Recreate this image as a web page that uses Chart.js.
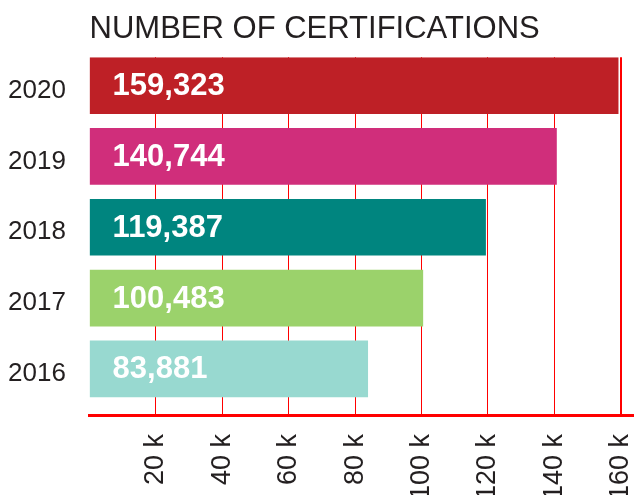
<!DOCTYPE html>
<html>
<head>
<meta charset="utf-8">
<title>Number of certifications</title>
<script src="https://cdn.jsdelivr.net/npm/chart.js@4.4.0/dist/chart.umd.min.js"></script>
<style>
  html, body { margin: 0; padding: 0; background: #fff; }
  #wrap { width: 634px; height: 495px; }
</style>
</head>
<body>
<div id="wrap"><canvas id="grafica" width="634" height="495"></canvas></div>
<script>
// values
const anios = ['2020', '2019', '2018', '2017', '2016'];
const certificaciones = [159323, 140744, 119387, 100483, 83881];
const colores = ['#be2026', '#d02e7b', '#00857f', '#9bd26b', '#98d9d0'];
const ticksX = [20000, 40000, 60000, 80000, 100000, 120000, 140000, 160000];
const maxX = 164000;

const fuente = '"Liberation Sans", Arial, Helvetica, sans-serif';

// white value label inside each bar
const etiquetas = {
    id: 'etiquetas',
    afterDatasetsDraw(chart) {
        const ctx = chart.ctx;
        const meta = chart.getDatasetMeta(0);
        ctx.save();
        ctx.fillStyle = '#ffffff';
        ctx.font = 'bold 31px ' + fuente;
        ctx.textAlign = 'left';
        ctx.textBaseline = 'middle';
        meta.data.forEach(function (bar, i) {
            ctx.fillText(certificaciones[i].toLocaleString('en-US'), bar.base + 23, bar.y + 1);
        });
        ctx.restore();
    }
};

const datos = certificaciones.map(function (v, i) { return { x: v, y: i }; });

new Chart(document.getElementById('grafica').getContext('2d'), {
    type: 'bar',
    data: {
        datasets: [{
            data: datos,
            backgroundColor: colores,
            borderWidth: 0,
            categoryPercentage: 1,
            barPercentage: 0.8
        }]
    },
    options: {
        indexAxis: 'y',
        responsive: false,
        animation: false,
        layout: { padding: { left: 8, right: 0, top: 0, bottom: 0 } },
        plugins: {
            legend: { display: false },
            tooltip: { enabled: false },
            title: {
                display: true,
                text: 'NUMBER OF CERTIFICATIONS',
                align: 'start',
                fullSize: false,
                color: '#231f20',
                font: { family: fuente, size: 31, weight: 'normal' },
                padding: { top: 11, bottom: 9 }
            }
        },
        scales: {
            x: {
                type: 'linear',
                position: 'bottom',
                min: 0,
                max: maxX,
                afterFit: function (axis) {
                    axis.height = 80;
                    // labels may hang over the edges, like in the original
                    axis.paddingLeft = 0;
                    axis.paddingRight = 0;
                },
                afterBuildTicks: function (axis) {
                    axis.ticks = ticksX.map(function (v) { return { value: v }; });
                },
                grid: {
                    drawTicks: false,
                    color: 'rgb(255, 0, 0)',
                    lineWidth: function (c) { return c.tick && c.tick.value === 160000 ? 2 : 1; }
                },
                border: { display: true, color: 'rgb(255, 0, 0)', width: 3 },
                ticks: {
                    minRotation: 90,
                    maxRotation: 90,
                    padding: 19,
                    color: '#231f20',
                    font: { family: fuente, size: 27 },
                    callback: function (v) { return (v / 1000) + ' k'; }
                }
            },
            y: {
                type: 'linear',
                reverse: true,
                offset: false,
                min: -0.4,
                max: 4.65,
                afterFit: function (axis) { axis.width = 81.6; },
                afterBuildTicks: function (axis) {
                    axis.ticks = anios.map(function (a, i) { return { value: i }; });
                },
                grid: { display: false, drawTicks: false },
                border: { display: false },
                ticks: {
                    crossAlign: 'far',
                    labelOffset: 5,
                    color: '#231f20',
                    font: { family: fuente, size: 26 },
                    callback: function (v) { return anios[v]; }
                }
            }
        }
    },
    plugins: [etiquetas]
});
</script>
</body>
</html>
